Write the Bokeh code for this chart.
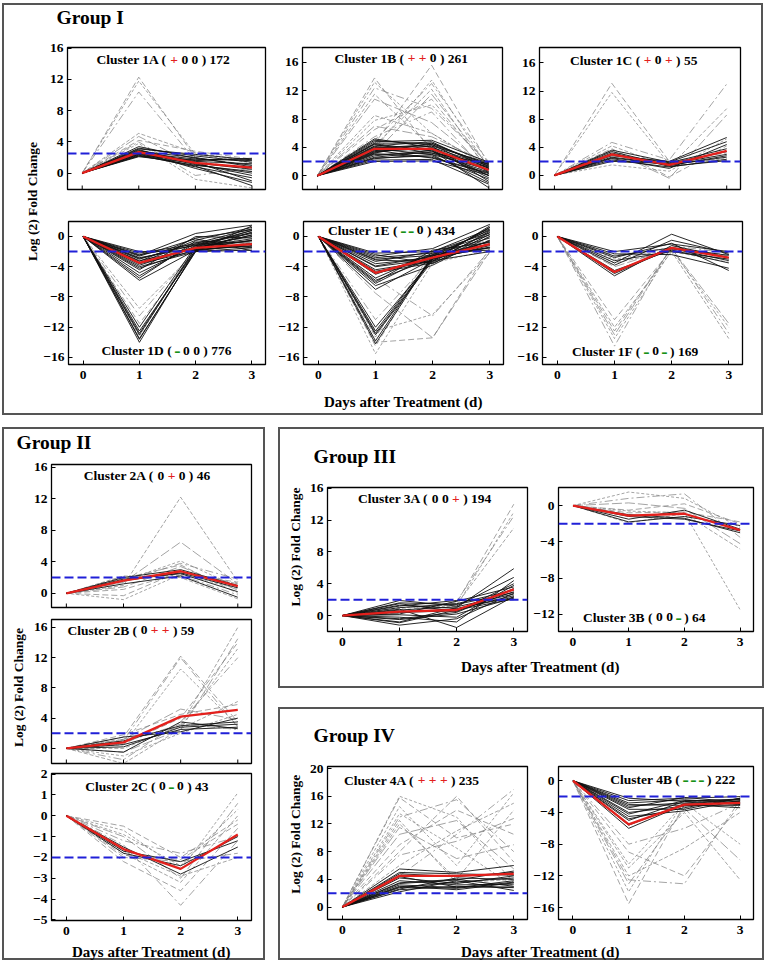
from math import pi
from bokeh.plotting import figure
from bokeh.models import Range1d, FixedTicker, Span, Label, Spacer, Row, Column
from bokeh.embed import file_html
from bokeh.resources import INLINE

DAYS = [0, 1, 2, 3]

# ---------------- data (log2 fold change at days 0..3) ----------------
C1A_DARK = [[0, 2.2, 1.0, 0.2], [0, 2.4, 1.5, 1.2], [0, 2.6, 1.8, 1.6], [0, 2.8, 2.0, 0.8],
            [0, 3.0, 1.2, -0.3], [0, 2.3, 0.8, -0.6], [0, 2.5, 1.6, 1.9], [0, 3.2, 2.2, 1.4],
            [0, 2.1, 1.3, 0.5], [0, 2.7, 0.6, -1.2], [0, 3.4, 1.9, 1.0], [0, 2.9, 1.4, -1.0],
            [0, 2.2, 1.7, 1.8], [0, 2.6, 1.1, 0.0], [0, 3.1, 2.4, 1.7], [0, 2.4, 0.9, -1.6]]
C1A_LIGHT = [[0, 12.3, 2.0, 1.0], [0, 11.8, 2.4, 1.3], [0, 10.4, 1.6, 0.4], [0, 5.1, 2.6, 1.5],
             [0, 4.7, 1.0, 0.2], [0, 4.2, 2.8, 1.8], [0, 3.8, -0.8, -1.9], [0, 4.0, -0.3, 0.6]]
C1A_MEAN = [0, 2.7, 1.3, 0.7]

C1B_DARK = [[0, 3.0, 3.2, 0.5], [0, 3.5, 3.8, 1.2], [0, 4.0, 4.2, 1.8], [0, 2.5, 2.8, -0.5],
            [0, 4.5, 3.5, 0.0], [0, 3.2, 4.6, 1.5], [0, 2.2, 2.3, -1.2], [0, 3.8, 3.0, 0.9],
            [0, 4.8, 5.0, 1.9], [0, 2.8, 3.6, -1.7], [0, 3.6, 2.5, 0.3], [0, 4.2, 4.8, 1.0],
            [0, 5.2, 4.0, 1.4], [0, 2.0, 2.1, 0.1], [0, 3.3, 4.2, -0.8], [0, 4.4, 3.2, 1.7],
            [0, 2.6, 3.4, 1.1], [0, 3.9, 4.4, 0.6], [0, 4.6, 4.6, 1.3], [0, 2.4, 3.0, -1.0],
            [0, 3.1, 2.6, 0.4], [0, 5.0, 4.4, 1.6], [0, 3.4, 3.9, 0.0], [0, 4.1, 3.7, -0.3]]
C1B_LIGHT = [[0, 13.8, 3.5, 0.8], [0, 13.2, 6.0, 1.2], [0, 12.4, 9.5, 1.8], [0, 11.5, 4.0, 0.5],
             [0, 10.8, 7.5, 1.0], [0, 4.5, 15.6, 1.6], [0, 3.8, 13.5, 1.0], [0, 5.0, 13.0, 1.9],
             [0, 4.2, 12.2, 0.4], [0, 3.2, 11.5, 1.3], [0, 6.5, 10.8, 0.9], [0, 7.8, 10.0, 1.5],
             [0, 5.5, 9.0, 0.2], [0, 8.5, 6.0, 1.1], [0, 7.0, 5.5, 1.8]]
C1B_MEAN = [0, 3.8, 3.8, 0.8]

C1C_DARK = [[0, 2.2, 1.2, 2.3], [0, 2.6, 1.6, 3.0], [0, 3.0, 1.8, 3.8], [0, 3.4, 1.4, 2.8],
            [0, 2.4, 1.0, 4.4], [0, 2.8, 2.0, 5.4], [0, 3.2, 1.3, 2.1], [0, 2.0, 1.7, 3.4],
            [0, 3.6, 1.9, 4.8], [0, 2.5, 1.5, 2.6]]
C1C_LIGHT = [[0, 13.1, 2.0, 3.2], [0, 11.8, 1.6, 2.4], [0, 4.7, 2.2, 13.0], [0, 4.2, 1.2, 9.5],
             [0, 3.5, -0.4, 8.6], [0, 3.8, -0.2, 4.2], [0, 1.5, 0.6, 5.2]]
C1C_MEAN = [0, 3.0, 1.5, 3.5]

C1D_DARK = [[0, -2.2, -1.0, 0.5], [0, -2.8, -1.5, -0.5], [0, -3.5, -0.5, 1.2], [0, -4.0, -2.0, -1.8],
            [0, -4.8, -1.2, 0.0], [0, -5.8, -1.8, -1.2], [0, -2.5, 0.4, 1.5], [0, -3.0, -0.8, -1.5],
            [0, -3.8, -1.4, 0.8], [0, -4.4, 0.0, -0.2], [0, -2.0, -1.9, -1.0], [0, -5.2, -0.9, 1.0],
            [0, -3.2, -1.6, 0.2], [0, -2.6, -0.3, -1.9], [0, -12.5, -1.8, -1.0], [0, -13.0, -1.5, 0.2],
            [0, -13.5, -2.0, -1.5], [0, -12.0, -1.2, 0.8], [0, -14.0, -1.7, -0.5],
            [0, -2.4, -1.2, -0.6], [0, -3.3, -0.2, 0.9], [0, -4.2, -1.7, -1.3], [0, -2.9, -1.1, 0.4],
            [0, -5.5, -0.6, -0.9], [0, -3.6, -1.9, 1.4], [0, -12.8, -1.4, -0.3], [0, -13.6, -1.9, 0.6]]
C1D_LIGHT = [[0, -11.5, -1.9, -1.8], [0, -13.2, -1.0, 1.1], [0, -10.5, -1.6, 0.0], [0, -9.5, -2.0, -0.8]]
C1D_MEAN = [0, -3.5, -1.5, -1.0]

C1E_DARK = [[0, -2.2, -2.0, 0.5], [0, -3.0, -2.5, -1.0], [0, -4.0, -3.0, 1.2], [0, -4.8, -3.5, -0.5],
            [0, -5.5, -2.2, -1.8], [0, -6.5, -3.8, 0.0], [0, -2.6, -1.6, 1.6], [0, -3.6, -2.8, -1.5],
            [0, -5.0, -2.4, 0.8], [0, -4.4, -3.2, -2.0], [0, -6.0, -1.8, -0.8], [0, -2.4, -3.6, 0.3],
            [0, -7.0, -3.0, -1.2], [0, -3.3, -2.0, 1.0], [0, -12.5, -2.8, -1.0], [0, -13.0, -3.2, 0.5],
            [0, -13.8, -2.5, -1.5], [0, -12.0, -3.0, 1.2],
            [0, -2.8, -2.2, 0.2], [0, -3.9, -2.6, -0.7], [0, -4.6, -3.3, 1.4], [0, -5.8, -2.9, -1.4],
            [0, -3.1, -3.4, 0.7], [0, -6.2, -2.4, -0.2], [0, -12.8, -3.0, -0.6], [0, -14.2, -2.6, 0.9]]
C1E_LIGHT = [[0, -14.5, -2.2, -0.5], [0, -15.5, -3.5, -1.8], [0, -11.0, -2.8, 0.0], [0, -13.3, -1.9, -1.2],
             [0, -7.5, -13.4, -2.0], [0, -14.0, -13.4, -1.5], [0, -12.5, -10.3, -2.2], [0, -5.5, -10.5, -1.8]]
C1E_MEAN = [0, -4.8, -2.8, -1.0]

C1F_DARK = [[0, -2.0, -1.0, -2.0], [0, -2.6, -1.5, -2.5], [0, -3.2, -2.0, -3.0], [0, -3.8, -0.5, -2.2],
            [0, -4.5, -1.8, -3.5], [0, -5.2, -1.2, -2.8], [0, -2.3, -2.4, -4.2], [0, -3.5, 0.3, -2.4],
            [0, -4.9, -1.6, -3.2], [0, -2.8, -0.9, -4.5]]
C1F_LIGHT = [[0, -12.5, -1.5, -2.6], [0, -13.5, -1.8, -3.0], [0, -14.5, -1.2, -2.2], [0, -12.0, -2.0, -3.4],
             [0, -13.0, -1.4, -2.8], [0, -11.0, -1.7, -2.4], [0, -3.0, -1.8, -12.0], [0, -2.5, -1.5, -12.8],
             [0, -3.5, -2.0, -13.5], [0, -4.0, -1.6, -11.5]]
C1F_MEAN = [0, -4.7, -1.5, -2.8]

C2A_DARK = [[0, 1.8, 2.5, 0.2], [0, 2.0, 3.0, 1.0], [0, 1.2, 2.2, -0.5], [0, 1.6, 2.6, 0.7]]
C2A_LIGHT = [[0, 0.5, 2.6, 1.4], [0, -0.8, 2.4, 0.6], [0, 1.5, 3.8, 1.8], [0, 2.2, 2.0, -0.7],
             [0, 0.8, 3.4, 0.4], [0, -0.3, 2.8, 1.2], [0, 1.6, 4.1, 0.8], [0, 2.1, 2.3, -0.2],
             [0, 1.0, 12.2, 1.5], [0, 1.4, 6.5, 1.2], [0, 1.9, 3.6, 0.0]]
C2A_MEAN = [0, 1.6, 2.8, 0.9]

C2B_DARK = [[0, 0.5, 2.5, 2.8], [0, 1.0, 3.0, 3.5], [0, 1.5, 2.2, 4.0], [0, -0.5, 3.5, 2.6],
            [0, 0.2, 2.8, 3.2]]
C2B_LIGHT = [[0, 1.8, 4.5, 5.8], [0, -1.0, 2.0, 4.5], [0, 0.8, 3.2, 2.5], [0, -2.0, 2.6, 6.2],
             [0, 1.2, 5.2, 3.8], [0, 1.5, 12.2, 3.5], [0, 0.5, 10.5, 3.0], [0, 1.0, 12.0, 2.8],
             [0, 0.0, 3.0, 16.0], [0, -0.5, 2.5, 14.5], [0, 0.6, 4.0, 14.0], [0, 1.2, 2.8, 13.2],
             [0, -1.5, 3.5, 12.0]]
C2B_MEAN = [0, 0.8, 4.2, 5.1]

C2C_DARK = [[0, -1.5, -2.8, -1.5], [0, -1.8, -2.4, -1.0], [0, -1.7, -2.2, -1.2]]
C2C_LIGHT = [[0, -0.5, -2.0, -0.2], [0, -0.9, -2.4, 0.3], [0, -1.2, -1.8, -1.0], [0, -1.8, -3.2, 0.0],
             [0, -2.0, -2.2, -1.8], [0, -2.2, -3.6, -0.6], [0, -0.7, -2.6, 1.1], [0, -1.4, -4.3, -1.2],
             [0, -1.7, -2.9, -2.0], [0, -1.0, -3.0, 0.6], [0, -1.9, -2.1, -0.4]]
C2C_MEAN = [0, -1.6, -2.55, -0.9]

C3A_DARK = [[0, 0.5, 0.8, 2.5], [0, 1.0, 1.5, 3.2], [0, -0.5, 0.2, 2.2], [0, 1.5, 0.5, 4.0],
            [0, 0.2, 1.8, 3.6], [0, -1.2, -0.4, 2.8], [0, 1.9, 1.2, 4.8], [0, 0.8, -1.5, 2.4],
            [0, -0.8, 1.0, 5.9], [0, 0.4, 0.6, 3.0], [0, 1.2, 1.9, 2.0], [0, -0.2, -0.8, 4.4],
            [0, 0.7, 1.1, 2.7], [0, -0.4, 0.4, 3.4], [0, 1.3, 0.9, 2.3], [0, 0.1, -0.2, 3.8],
            [0, 1.6, 1.4, 2.9], [0, -0.9, 0.7, 2.1]]
C3A_LIGHT = [[0, 0.6, 1.6, 14.0], [0, 1.0, 1.2, 13.0], [0, 0.3, 1.8, 12.5], [0, 0.9, 1.4, 11.0]]
C3A_MEAN = [0, 0.5, 0.7, 3.3]

C3B_DARK = [[0, -1.8, -1.2, -2.2], [0, -1.5, -0.5, -2.6], [0, -1.0, -1.4, -3.0], [0, -1.2, -1.5, -2.8]]
C3B_LIGHT = [[0, -0.5, 0.2, -2.0], [0, 1.5, 0.8, -2.4], [0, 0.8, 1.3, -3.5], [0, -1.9, -0.9, -4.8],
             [0, 0.3, -0.3, -4.2], [0, -0.8, -0.7, -1.8], [0, -0.6, -0.8, -11.5]]
C3B_MEAN = [0, -1.1, -0.9, -2.7]

C4A_DARK = [[0, 2.5, 3.0, 2.8], [0, 3.0, 2.5, 3.5], [0, 3.5, 4.0, 3.0], [0, 4.2, 3.4, 4.5],
            [0, 2.2, 3.8, 2.4], [0, 4.8, 4.4, 5.0], [0, 3.2, 2.8, 3.8], [0, 2.8, 3.6, 4.2],
            [0, 5.5, 5.0, 6.0], [0, 3.8, 3.2, 3.3], [0, 2.6, 4.2, 4.0], [0, 4.4, 2.9, 2.9],
            [0, 3.4, 3.9, 5.2], [0, 2.9, 2.7, 3.6], [0, 5.0, 4.8, 4.6]]
C4A_LIGHT = [[0, 15.8, 10.0, 12.0], [0, 14.5, 6.0, 16.5], [0, 13.0, 15.5, 8.0], [0, 12.0, 4.0, 14.0],
             [0, 10.5, 12.5, 5.5], [0, 9.0, 14.0, 10.5], [0, 16.0, 13.0, 3.5], [0, 7.5, 9.5, 12.8],
             [0, 6.0, 11.0, 15.0], [0, 11.5, 7.0, 9.0], [0, 8.0, 16.0, 6.5], [0, 13.5, 8.5, 3.0],
             [0, 4.5, 10.5, 17.0], [0, 12.5, 3.5, 4.0]]
C4A_MEAN = [0, 4.5, 4.5, 4.8]

C4B_DARK = [[0, -2.5, -2.2, -2.0], [0, -3.2, -2.8, -2.4], [0, -4.0, -3.2, -2.6], [0, -5.0, -2.6, -3.0],
            [0, -3.6, -3.6, -2.2], [0, -6.0, -3.0, -3.4], [0, -2.8, -2.4, -2.8], [0, -4.5, -3.8, -2.5],
            [0, -2.2, -2.6, -2.3], [0, -3.4, -2.1, -2.7], [0, -4.8, -3.4, -2.2], [0, -5.6, -2.9, -2.9],
            [0, -3.0, -3.1, -3.1], [0, -4.2, -2.5, -2.4]]
C4B_LIGHT = [[0, -15.5, -3.0, -2.6], [0, -14.0, -2.5, -3.0], [0, -12.5, -13.0, -2.4], [0, -11.0, -4.0, -12.5],
             [0, -13.0, -3.5, -10.0], [0, -9.0, -12.0, -3.0], [0, -10.5, -2.8, -8.0], [0, -8.0, -6.0, -2.8],
             [0, -12.0, -8.5, -4.0]]
C4B_MEAN = [0, -5.5, -3.0, -2.8]

CLUSTER_NAMES = ["1A", "1B", "1C", "1D", "1E", "1F", "2A", "2B", "2C", "3A", "3B", "4A", "4B"]
CLUSTER_SIGNS = [["+", "0", "0"], ["+", "+", "0"], ["+", "0", "+"], ["-", "0", "0"], ["-", "-", "0"],
                 ["-", "0", "-"], ["0", "+", "0"], ["0", "+", "+"], ["0", "-", "0"], ["0", "0", "+"],
                 ["0", "0", "-"], ["+", "+", "+"], ["-", "-", "-"]]
CLUSTER_SIZES = [172, 261, 55, 776, 434, 169, 46, 59, 43, 194, 64, 235, 222]
THRESHOLDS = [2.5, 2, 2, -2, -2, -2, 2, 2, -2, 2, -2, 2, -2]

YT_POS = [0, 4, 8, 12, 16]
YT_NEG = [0, -4, -8, -12, -16]
YT_2C = [2, 1, 0, -1, -2, -3, -4, -5]
YT_3B = [0, -4, -8, -12]
YT_4A = [0, 4, 8, 12, 16, 20]

GROUP_TITLES = ["Group I", "Group II", "Group III", "Group IV"]
Y_LABEL = "Log (2) Fold Change"
X_LABEL = "Days after Treatment (d)"

# ---------------- styling ----------------
FONT = "Liberation Serif"
RED = "#e3201c"
GREEN = "#179117"
BLUE = "#2020d8"
DASHES = ["6 3", "3 2", "8 3 2 3", "4 2", "10 3"]
XR = (-0.26, 3.24)

# Times-Bold advance widths (Liberation Serif Bold is metric compatible)
CW = {" ": 250, "(": 333, ")": 333, "+": 570, "-": 333, "A": 722, "B": 667, "C": 722, "D": 722,
      "E": 667, "F": 611, "l": 278, "u": 556, "s": 389, "t": 333, "e": 444, "r": 444}


def tw(s, size):
    return sum(CW.get(c, 500) for c in s) * size / 1000.0


def add_title(p, idx, xc, yc, size=13.5):
    parts = [("Cluster %s ( " % CLUSTER_NAMES[idx], "black")]
    for s in CLUSTER_SIGNS[idx]:
        parts.append((s, RED if s == "+" else (GREEN if s == "-" else "black")))
        parts.append((" ", "black"))
    parts.append((") %d" % CLUSTER_SIZES[idx], "black"))
    total = sum(tw(t, size) for t, _ in parts)
    off = -total / 2.0
    for t, c in parts:
        if t.strip():
            fs = size
            xo = off
            if t == "-":
                fs = 19.0
                xo = off + (tw(t, size) - tw(t, fs)) / 2.0
            p.add_layout(Label(x=xc, y=yc, x_offset=xo, text=t, text_color=c, text_font=FONT,
                               text_font_style="bold", text_font_size="%.1fpx" % fs,
                               text_align="left", text_baseline="middle"))
        off += tw(t, size)


def panel(w, h, mb, yr, yticks, idx, dark, light, mean, tpos, xlabels):
    l, r, t, b = mb
    p = figure(width=w, height=h, x_range=Range1d(*XR), y_range=Range1d(*yr),
               min_border_left=l, min_border_right=r, min_border_top=t, min_border_bottom=b,
               toolbar_location=None, output_backend="svg", background_fill_color="white",
               border_fill_alpha=0, outline_line_color="black", outline_line_width=1.3,
               x_axis_location="below" if xlabels else None)
    p.grid.visible = False
    axes = [p.yaxis[0]]
    if xlabels:
        p.xaxis.ticker = FixedTicker(ticks=DAYS)
        axes.append(p.xaxis[0])
        p.xaxis.major_label_standoff = 6
    else:
        # inner tick marks on the bottom edge (half of each vertical dash is clipped by the frame)
        p.scatter(DAYS, [yr[0]] * len(DAYS), marker="dash", angle=pi / 2, size=8,
                  line_color="black", line_width=1)
    p.yaxis.ticker = FixedTicker(ticks=yticks)
    for ax in axes:
        ax.axis_line_color = None
        ax.major_tick_in = 4
        ax.major_tick_out = 0
        ax.major_tick_line_color = "black"
        ax.minor_tick_line_color = None
        ax.major_label_text_font = FONT
        ax.major_label_text_font_style = "bold"
        ax.major_label_text_font_size = "13.5px"
        ax.major_label_text_color = "black"
    p.yaxis.major_label_standoff = 4
    for i, ys in enumerate(light):
        p.line(DAYS, ys, line_color="#7d7d7d", line_width=0.7, line_dash=DASHES[i % len(DASHES)])
    for ys in dark:
        p.line(DAYS, ys, line_color="#111111", line_width=1.0, line_alpha=0.9)
    p.add_layout(Span(location=THRESHOLDS[idx], dimension="width", line_color=BLUE,
                      line_dash="9 4", line_width=2))
    p.line(DAYS, mean, line_color=RED, line_width=2.3)
    add_title(p, idx, tpos[0], tpos[1])
    return p


def tfig(w, h, items):
    p = figure(width=w, height=h, x_range=Range1d(0, w), y_range=Range1d(h, 0),
               x_axis_type=None, y_axis_type=None, min_border=0, toolbar_location=None,
               output_backend="svg", outline_line_color=None, background_fill_alpha=0,
               border_fill_alpha=0)
    p.grid.visible = False
    for (x, y, text, size, angle, align) in items:
        p.add_layout(Label(x=x, y=y, text=text, angle=angle, text_font=FONT, text_font_style="bold",
                           text_font_size=size, text_align=align, text_baseline="middle",
                           text_color="black"))
    return p


BOX = {"outline": "2px solid #555555", "outline-offset": "-2px"}

# ---------------- Group I ----------------
g1_title = tfig(723, 37, [(16, 14, GROUP_TITLES[0], "19.5px", 0, "left")])
p1a = panel(235, 174, (27, 10, 7, 23), (-2.1, 16.1), YT_POS, 0, C1A_DARK, C1A_LIGHT, C1A_MEAN, (1.43, 14.5), False)
p1b = panel(237, 174, (27, 10, 6, 24), (-1.95, 18.1), YT_POS, 1, C1B_DARK, C1B_LIGHT, C1B_MEAN, (1.47, 16.6), False)
p1c = panel(251, 174, (27, 23, 4, 25), (-2.0, 18.2), YT_POS, 2, C1C_DARK, C1C_LIGHT, C1C_MEAN, (1.38, 16.4), False)
p1d = panel(235, 176, (27, 10, 7, 26), (-16.93, 1.98), YT_NEG, 3, C1D_DARK, C1D_LIGHT, C1D_MEAN, (1.48, -15.1), True)
p1e = panel(237, 176, (28, 9, 7, 26), (-16.93, 1.98), YT_NEG, 4, C1E_DARK, C1E_LIGHT, C1E_MEAN, (1.28, 0.8), True)
p1f = panel(251, 176, (30, 21, 7, 26), (-16.93, 1.98), YT_NEG, 5, C1F_DARK, C1F_LIGHT, C1F_MEAN, (1.36, -15.2), True)
g1_xlab = tfig(723, 25, [(363, 11, X_LABEL, "15px", 0, "center")])
g1_ylab = tfig(38, 412, [(30, 198, Y_LABEL, "13.5px", pi / 2, "center")])
g1 = Row(children=[g1_ylab, Column(children=[g1_title, Row(children=[p1a, p1b, p1c]),
                                              Row(children=[p1d, p1e, p1f]), g1_xlab])],
         styles=BOX)

# ---------------- Group II ----------------
g2_title = tfig(263, 33, [(14, 15, GROUP_TITLES[1], "19.5px", 0, "left")])
p2a = panel(237, 153, (23, 14, 4, 6), (-1.8, 16.35), YT_POS, 6, C2A_DARK, C2A_LIGHT, C2A_MEAN, (1.41, 14.9), False)
p2b = panel(237, 154, (23, 14, 6, 4), (-2.0, 17.05), YT_POS, 7, C2B_DARK, C2B_LIGHT, C2B_MEAN, (1.13, 15.6), False)
p2c = panel(237, 175, (23, 14, 6, 22), (-5.03, 2.03), YT_2C, 8, C2C_DARK, C2C_LIGHT, C2C_MEAN, (1.41, 1.42), True)
g2_ylab = tfig(26, 482, [(16, 227, Y_LABEL, "13.5px", pi / 2, "center")])
g2_xlab = tfig(263, 18, [(149, 9, X_LABEL, "15px", 0, "center")])
g2 = Column(children=[g2_title, Row(children=[g2_ylab, Column(children=[p2a, p2b, p2c])]), g2_xlab],
            styles=BOX)

# ---------------- Group III ----------------
g3_title = tfig(486, 53, [(35, 29, GROUP_TITLES[2], "19.5px", 0, "left")])
p3a = panel(225, 172, (22, 3, 7, 21), (-2.0, 16.1), YT_POS, 9, C3A_DARK, C3A_LIGHT, C3A_MEAN, (1.44, 14.7), True)
p3b = panel(234, 172, (23, 11, 7, 21), (-13.9, 2.0), YT_3B, 10, C3B_DARK, C3B_LIGHT, C3B_MEAN, (1.28, -12.3), True)
g3_ylab = tfig(27, 172, [(17, 71, Y_LABEL, "13.5px", pi / 2, "center")])
g3_xlab = tfig(486, 36, [(262, 14, X_LABEL, "15px", 0, "center")])
g3 = Column(children=[g3_title, Row(children=[g3_ylab, p3a, p3b]), g3_xlab], styles=BOX)

# ---------------- Group IV ----------------
g4_title = tfig(486, 52, [(35, 28, GROUP_TITLES[3], "19.5px", 0, "left")])
p4a = panel(225, 183, (22, 3, 7, 23), (-1.8, 20.3), YT_4A, 11, C4A_DARK, C4A_LIGHT, C4A_MEAN, (1.21, 18.3), True)
p4b = panel(234, 183, (23, 11, 7, 23), (-17.5, 1.8), YT_NEG, 12, C4B_DARK, C4B_LIGHT, C4B_MEAN, (1.79, 0.2), True)
g4_ylab = tfig(27, 183, [(17, 81, Y_LABEL, "13.5px", pi / 2, "center")])
g4_xlab = tfig(486, 18, [(262, 9, X_LABEL, "15px", 0, "center")])
g4 = Column(children=[g4_title, Row(children=[g4_ylab, p4a, p4b]), g4_xlab], styles=BOX)

right = Column(children=[g3, Spacer(width=486, height=19), g4])
bottom = Row(children=[g2, Spacer(width=13, height=533), right])
root = Column(children=[g1, Spacer(width=761, height=12), bottom],
              styles={"position": "absolute", "left": "2px", "top": "3px"})

open("out.html", "w").write(file_html(root, INLINE))
